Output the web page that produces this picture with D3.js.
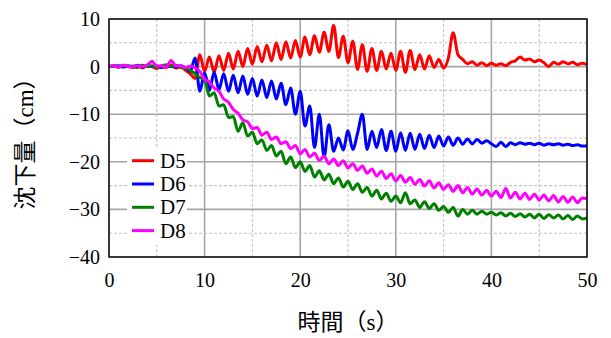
<!DOCTYPE html>
<html><head><meta charset="utf-8">
<script src="https://cdn.jsdelivr.net/npm/d3@7"></script>
</head><body style="margin:0">
<svg id="c" width="611" height="338"></svg>
<script>
// sample times (s), 0.5 s step
const times = d3.range(0, 50.25, 0.5);
const seriesNames = ["D5", "D6", "D7", "D8"];
const xTicks = [0, 10, 20, 30, 40, 50];
const yTicks = [10, 0, -10, -20, -30, -40];

const d5 = [0,0.2,-0.1,0.3,0,-0.2,0.1,-0.3,0.2,0,-0.4,0.1,-0.2,0.3,-0.3,0,-0.8,
 -1.5,-2.5,2.5,-1.0,
 2,-1.2,2.3,-0.8,2.8,-0.5,3.2,0,3.8,0.5,
 4.2,1,4.5,1.2,5,1.5,5.2,1.8,5.5,2,
 6.2,2.5,6.5,3,7.2,3.2,8.7,1.9,6.4,0.8,
 5.3,-0.6,4.6,-1,3.8,-0.8,3.2,-0.5,2.8,-0.8,
 3.2,-1.2,3.4,-0.6,2.5,-0.5,2.3,-0.2,1.5,-0.3,
 1.8,7.1,2.5,1.5,0.6,1,0.3,0.8,0.2,0.7,
 0.3,0.6,0.2,0.9,1.2,2,1.4,1.6,1,1.4,
 0.8,0,0.9,0.5,1,0.6,0.9,0.4,0.7,0.4];
const d6 = [0,0.1,0.2,-0.1,0.2,0,0.3,-0.1,0.2,0,0.1,-0.2,0.2,0,-0.1,0.2,-0.3,
 -1.0,1.8,-5.2,-1.3,
 -5,-1.2,-4.8,-1.5,-5.2,-1.8,-5.5,-2,-5.8,-2.5,
 -6.2,-2.8,-6.5,-3,-6.8,-3.5,-8,-4.5,-10,-5.2,
 -12.5,-8.3,-17,-10,-19,-12.2,-17.8,-15,-17.5,-13.5,
 -17.4,-14,-10,-17.4,-13.6,-17,-13.2,-17.6,-13.6,-17.8,
 -13.9,-17.6,-14,-17.4,-14.2,-17.2,-14.4,-17,-14.6,-16.7,
 -14.8,-16.5,-15,-16.3,-15.2,-16.2,-15.3,-16.1,-15.6,-16.2,
 -16.8,-15.9,-16.8,-16,-16.4,-16,-16.3,-16.1,-16.4,-16.1,
 -16.5,-16.2,-16.4,-16.2,-16.5,-16.3,-16.6,-16.4,-16.7,-16.7];
const d7 = [0,0.1,-0.1,0.2,0,0.1,-0.2,0.3,0,0.2,-0.1,0.1,0.4,0,0.3,-0.2,-0.3,
 -0.8,-1.5,-2.3,-2.7,
 -6.2,-5.5,-8.3,-8,-10.7,-10.5,-13.6,-11.8,-14.6,-13.8,
 -16.2,-15.4,-17.6,-16.6,-18.8,-17.8,-20.4,-19,-21.2,-20,
 -22,-20.8,-23.2,-21.9,-23.8,-22.6,-24.6,-23.4,-25.3,-24.1,
 -25.8,-24.6,-26.4,-25.4,-27.2,-26,-27.8,-26.6,-28.3,-27.2,
 -28.6,-26.5,-28.8,-28,-29.6,-28.4,-29.8,-28.8,-30.2,-29.4,
 -30.6,-29.6,-31.4,-30,-31,-30.2,-31,-30.4,-31,-30.6,
 -31.2,-30.7,-31.4,-30.8,-31.5,-30.9,-31.6,-31,-31.8,-31,
 -31.9,-31.1,-31.8,-31.2,-32,-31.3,-32.1,-31.4,-32,-31.8];
const d8 = [0,0.2,-0.1,0.3,0.1,-0.1,0.2,0,0.3,1.1,0.1,0.2,-0.1,1.3,0.1,0.2,-0.2,
 0.1,-0.3,-1,-2.7,
 -3.2,-4.5,-5.2,-6.8,-7.5,-9,-9.8,-11.2,-11.6,-13,
 -12.8,-14.4,-13.8,-15.3,-14.8,-16.2,-15.8,-17.2,-16.6,-18.3,
 -17.4,-19,-18.2,-19.7,-18.8,-20.4,-19.4,-20.8,-19.8,-21.3,
 -20.4,-21.8,-20.9,-22.4,-21.5,-23,-22,-23.5,-22.5,-24,
 -22.9,-24.3,-23.3,-24.7,-23.7,-25.1,-24,-25.5,-24.4,-25.8,
 -24.8,-26.2,-25,-26.5,-25.4,-26.8,-25.7,-27,-26,-27.2,
 -26.2,-27.5,-25.6,-27.6,-26.4,-27.8,-26.6,-27.9,-26.8,-28,
 -27,-28.2,-27.1,-28.4,-27.3,-28.5,-27.4,-28.6,-27.6,-27.8];

const colors = ["#ff0000", "#0000ff", "#008000", "#ff00ff"];
const allSeries = [d5, d6, d7, d8];
const SERIF = "Liberation Serif";
const CJK = "Noto Sans CJK JP";

const svg = d3.select("#c");
const m = {l: 109, r: 24, t: 19, b: 81};
const W = 611, H = 338;
const x = d3.scaleLinear().domain([0, 50]).range([m.l, W - m.r]);
const y = d3.scaleLinear().domain([-40, 10]).range([H - m.b, m.t]);

// grid
const g = svg.append("g");
d3.range(0, 50.1, 5).forEach(v => {
  const major = v % 10 === 0;
  g.append("line").attr("x1", x(v)).attr("x2", x(v)).attr("y1", y(10)).attr("y2", y(-40))
    .attr("stroke", major ? "#a6a6a6" : "#c4c4c4").attr("stroke-width", major ? 1.6 : 1.1)
    .attr("stroke-dasharray", major ? null : "3,2");
});
d3.range(-40, 10.1, 5).forEach(v => {
  const major = v % 10 === 0;
  g.append("line").attr("x1", x(0)).attr("x2", x(50)).attr("y1", y(v)).attr("y2", y(v))
    .attr("stroke", major ? "#a6a6a6" : "#c4c4c4").attr("stroke-width", major ? 1.6 : 1.1)
    .attr("stroke-dasharray", major ? null : "3,2");
});

// lines
const line = d3.line().x((d, i) => x(times[i])).y(d => y(d)).curve(d3.curveMonotoneX);
svg.append("clipPath").attr("id", "pc").append("rect")
  .attr("x", x(0)).attr("y", y(10)).attr("width", x(50) - x(0)).attr("height", y(-40) - y(10));
allSeries.forEach((s, k) => {
  svg.append("path").datum(s).attr("d", line).attr("fill", "none")
    .attr("stroke", colors[k]).attr("stroke-width", 3).attr("stroke-linejoin", "round")
    .attr("clip-path", "url(#pc)");
});

// frame
svg.append("rect").attr("x", x(0)).attr("y", y(10)).attr("width", x(50) - x(0))
  .attr("height", y(-40) - y(10)).attr("fill", "none").attr("stroke", "#000").attr("stroke-width", 1.4);

// tick labels (axis groups)
const xAxis = d3.axisBottom(x).tickValues(xTicks).tickSize(0).tickPadding(16).tickFormat(d3.format("d"));
const xa = svg.append("g").attr("transform", `translate(0,${y(-40)})`).call(xAxis);
xa.attr("font-family", SERIF).attr("font-size", 20);
xa.select(".domain").remove();
xa.selectAll("text").style("font-family", SERIF, "important").attr("font-size", 20).attr("fill", "#000");

const yAxis = d3.axisLeft(y).tickValues(yTicks).tickSize(0).tickPadding(9)
  .tickFormat(d => d < 0 ? "\u2212" + Math.abs(d) : String(d));
const ya = svg.append("g").attr("transform", `translate(${x(0)},0)`).call(yAxis);
ya.attr("font-family", SERIF).attr("font-size", 20);
ya.select(".domain").remove();
ya.selectAll("text").style("font-family", SERIF, "important").attr("font-size", 20).attr("fill", "#000");

// axis titles
const xt = svg.append("text").attr("font-family", CJK).attr("x", (x(0) + x(50)) / 2).attr("y", 330)
  .attr("text-anchor", "middle").attr("font-size", 23).attr("fill", "#000");
xt.append("tspan").text("時間（");
xt.append("tspan").style("font-family", SERIF, "important").text("s");
xt.append("tspan").text("）");

const yt = svg.append("text").attr("font-family", CJK)
  .attr("transform", `translate(33,${(y(10) + y(-40)) / 2}) rotate(-90)`)
  .attr("text-anchor", "middle").attr("font-size", 23).attr("fill", "#000");
yt.append("tspan").text("沈下量（");
yt.append("tspan").style("font-family", SERIF, "important").text("cm");
yt.append("tspan").text("）");

// legend (texts directly on the svg root)
svg.append("rect").attr("x", 127).attr("y", 149).attr("width", 60).attr("height", 96).attr("fill", "#fff");
seriesNames.forEach((n, k) => {
  const cy = 160.7 + k * 23.3;
  svg.append("line").attr("x1", 132).attr("x2", 154).attr("y1", cy).attr("y2", cy)
    .attr("stroke", colors[k]).attr("stroke-width", 3);
  svg.append("text").attr("x", 160).attr("y", cy + 7).attr("font-size", 21)
    .attr("font-family", SERIF).text(n);
});
</script>
</body></html>
